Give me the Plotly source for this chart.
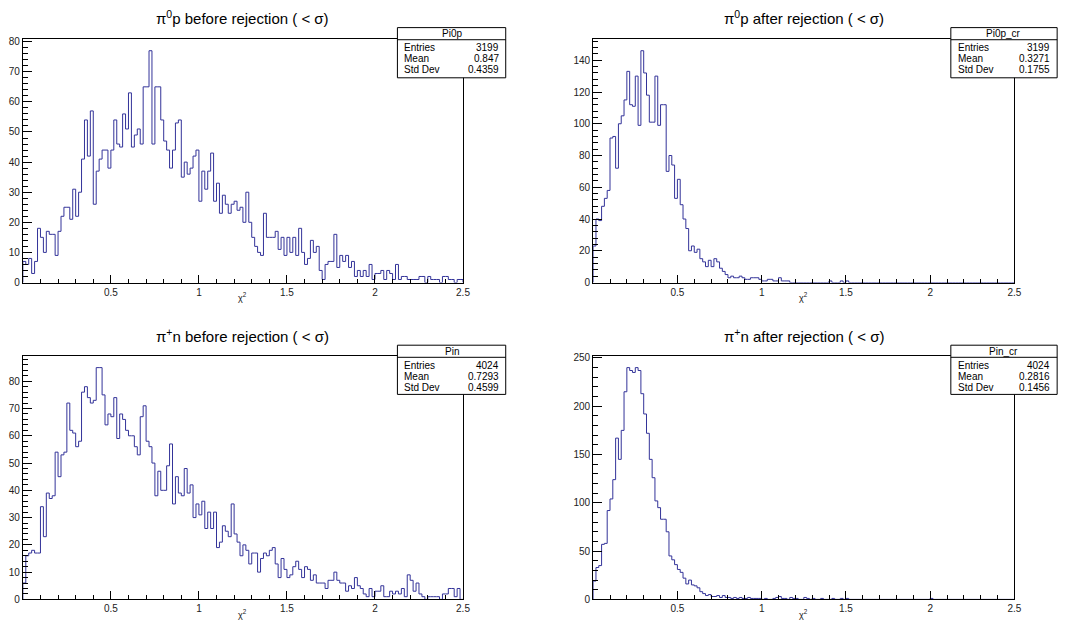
import numpy as np
import plotly.graph_objects as go

# ---------------- data ----------------
BIN_LO, BIN_HI, N_BINS = 0.0, 2.5, 150

PI0P_BEFORE = [
    7, 6, 8, 3, 7, 18, 15, 10, 17, 16,
    16, 9, 17, 22, 25, 25, 21, 31, 22, 30,
    41, 54, 42, 57, 26, 37, 41, 44, 44, 38,
    44, 54, 46, 45, 56, 51, 63, 45, 49, 51,
    46, 65, 65, 77, 46, 65, 65, 54, 47, 44,
    38, 44, 53, 54, 35, 40, 36, 38, 42, 44,
    27, 37, 31, 37, 43, 27, 33, 23, 29, 26,
    23, 26, 27, 24, 25, 20, 30, 20, 15, 12,
    10, 9, 23, 15, 15, 15, 17, 11, 15, 9,
    15, 10, 15, 9, 18, 10, 6, 8, 14, 10,
    12, 4, 1, 6, 7, 7, 16, 5, 9, 7,
    9, 5, 7, 2, 4, 2, 4, 2, 6, 1,
    3, 3, 4, 1, 4, 3, 1, 6, 1, 2,
    2, 1, 1, 1, 1, 2, 2, 0, 2, 1,
    1, 1, 0, 2, 2, 1, 1, 0, 1, 1,
]

PI0P_AFTER = [
    23, 40, 39, 48, 53, 58, 91, 92, 72, 100,
    105, 115, 133, 112, 111, 130, 99, 146, 132, 118,
    101, 101, 130, 99, 112, 112, 70, 80, 74, 53,
    65, 49, 40, 34, 20, 23, 19, 21, 15, 13,
    10, 14, 10, 15, 13, 9, 7, 5, 3, 4,
    3, 3, 4, 3, 2, 2, 3, 3, 3, 2,
    1, 1, 2, 2, 1, 1, 3, 1, 1, 1,
    0, 0, 0, 0, 0, 0, 0, 0, 0, 0,
    0, 0, 0, 0, 1, 0, 0, 0, 1, 0,
    1, 0, 0, 0, 0, 0, 0, 0, 0, 0,
    0, 0, 0, 0, 0, 0, 0, 0, 0, 0,
    0, 0, 0, 0, 0, 0, 0, 0, 0, 0,
    0, 0, 0, 0, 0, 0, 0, 0, 0, 0,
    0, 0, 0, 0, 0, 0, 0, 0, 0, 0,
    0, 0, 0, 0, 0, 0, 0, 0, 0, 0,
]

PIN_BEFORE = [
    6, 16, 17, 18, 17, 17, 34, 23, 39, 37,
    38, 54, 45, 53, 54, 72, 62, 61, 56, 58,
    76, 78, 74, 72, 73, 85, 85, 75, 64, 68,
    67, 74, 59, 68, 66, 62, 60, 60, 56, 53,
    67, 71, 58, 56, 50, 38, 47, 40, 40, 49,
    57, 35, 45, 39, 38, 48, 39, 42, 30, 35,
    31, 36, 26, 32, 26, 32, 19, 21, 27, 25,
    23, 35, 24, 21, 16, 20, 18, 13, 17, 17,
    10, 15, 17, 16, 18, 19, 13, 8, 15, 11,
    8, 9, 12, 14, 11, 8, 12, 11, 7, 9,
    6, 6, 6, 4, 7, 7, 10, 7, 6, 6,
    3, 5, 4, 8, 5, 4, 2, 1, 4, 1,
    3, 3, 5, 1, 1, 3, 2, 3, 2, 4,
    1, 9, 7, 3, 6, 2, 1, 0, 1, 1,
    1, 1, 0, 2, 2, 4, 4, 1, 4, 0,
]

PIN_AFTER = [
    19, 33, 35, 57, 58, 92, 104, 124, 167, 145,
    175, 215, 240, 237, 235, 240, 237, 213, 192, 172,
    145, 126, 102, 95, 83, 83, 70, 45, 41, 36,
    31, 28, 22, 16, 20, 15, 14, 12, 8, 6,
    4, 5, 3, 3, 4, 2, 4, 2, 2, 1,
    2, 1, 2, 1, 1, 2, 1, 1, 1, 1,
    0, 1, 0, 0, 1, 2, 3, 1, 1, 0,
    2, 1, 1, 0, 0, 2, 1, 0, 1, 0,
    0, 1, 0, 0, 0, 1, 0, 0, 1, 0,
    1, 0, 0, 0, 0, 0, 0, 0, 0, 0,
    0, 0, 0, 0, 0, 0, 0, 0, 0, 0,
    0, 0, 0, 0, 0, 0, 0, 0, 0, 0,
    1, 0, 0, 0, 0, 0, 0, 0, 0, 0,
    0, 0, 0, 0, 0, 0, 0, 0, 0, 0,
    0, 0, 0, 0, 0, 0, 0, 0, 0, 0,
]

TITLES = [
    "π<sup>0</sup>p before rejection ( &lt; σ)",
    "π<sup>0</sup>p after rejection ( &lt; σ)",
    "π<sup>+</sup>n before rejection ( &lt; σ)",
    "π<sup>+</sup>n after rejection ( &lt; σ)",
]
STAT_NAMES = ["Pi0p", "Pi0p_cr", "Pin", "Pin_cr"]
STAT_ENTRIES = ["3199", "3199", "4024", "4024"]
STAT_MEANS = ["0.847", "0.3271", "0.7293", "0.2816"]
STAT_STDS = ["0.4359", "0.1755", "0.4599", "0.1456"]
SERIES = [PI0P_BEFORE, PI0P_AFTER, PIN_BEFORE, PIN_AFTER]
Y_MAX = [80.85, 153.3, 89.25, 252.0]
Y_DTICK = [10, 20, 10, 50]
Y_MINOR = [2, 4, 2, 10]
X_TICKS = [0.5, 1, 1.5, 2, 2.5]
X_TICK_TEXT = ["0.5", "1", "1.5", "2", "2.5"]
X_TITLE = "χ<sup>2</sup>"

# ---------------- layout geometry (pixels) ----------------
W, H = 1086, 630
FRAMES = [  # x0, x1, ytop, ybottom
    (23, 466, 35.7, 283),
    (597, 1021, 35.7, 283),
    (23, 466, 357.7, 605),
    (597, 1021, 357.7, 605),
]
BOXES = [  # x0, x1, ytop, ybottom
    (400, 509, 24, 75),
    (957, 1064, 24, 75),
    (400, 509, 346.7, 396.7),
    (957, 1064, 346.7, 396.7),
]
TITLE_Y = [14, 14, 336.7, 336.7]

FONT = "Liberation Sans, Arial, Helvetica, sans-serif"
HIST_COLOR = "#333399"


def px(x):
    return x / W


def py(y):
    return 1 - y / H


edges = np.linspace(BIN_LO, BIN_HI, N_BINS + 1)

fig = go.Figure()
annotations = []
shapes = []

for k in range(4):
    vals = np.asarray(SERIES[k], dtype=float)
    xs = np.concatenate([[edges[0]], edges[:-1], [edges[-1], edges[-1]]])
    ys = np.concatenate([[0], vals, [vals[-1], 0]])
    sfx = "" if k == 0 else str(k + 1)
    fig.add_trace(go.Scatter(
        x=xs, y=ys, mode="lines", line=dict(color=HIST_COLOR, width=1, shape="hv"),
        xaxis="x" + sfx, yaxis="y" + sfx, showlegend=False, hoverinfo="skip",
    ))
    x0, x1, yt, yb = FRAMES[k]
    fig.update_layout(**{
        "xaxis" + sfx: dict(
            domain=[px(x0), px(x1)], anchor="y" + sfx, range=[BIN_LO, BIN_HI],
            showline=True, mirror=True, linecolor="black", linewidth=1,
            showgrid=False, zeroline=False,
            ticks="inside", ticklen=8, tickwidth=1, tickcolor="black",
            tickmode="array", tickvals=X_TICKS, ticktext=X_TICK_TEXT,
            tickfont=dict(family=FONT, size=10, color="#222"),
            minor=dict(ticks="inside", ticklen=4, tickcolor="black",
                       tickmode="linear", tick0=0, dtick=0.1, showgrid=False),
        ),
        "yaxis" + sfx: dict(
            domain=[py(yb), py(yt)], anchor="x" + sfx, range=[0, Y_MAX[k]],
            showline=True, mirror=True, linecolor="black", linewidth=1,
            showgrid=False, zeroline=False,
            ticks="inside", ticklen=9, tickwidth=1, tickcolor="black",
            tickmode="linear", tick0=0, dtick=Y_DTICK[k],
            tickfont=dict(family=FONT, size=10, color="#222"),
            minor=dict(ticks="inside", ticklen=5, tickcolor="black",
                       tickmode="linear", tick0=0, dtick=Y_MINOR[k], showgrid=False),
        ),
    })
    # title
    annotations.append(dict(
        text=TITLES[k], x=px((x0 + x1) / 2), y=py(TITLE_Y[k]), xref="paper", yref="paper",
        xanchor="center", yanchor="middle", showarrow=False,
        font=dict(family=FONT, size=15, color="black"),
    ))
    # x axis title
    annotations.append(dict(
        text=X_TITLE, x=px((x0 + x1) / 2), y=py(yb + 15), xref="paper", yref="paper",
        xanchor="center", yanchor="middle", showarrow=False,
        font=dict(family=FONT, size=9, color="#222"),
    ))
    # stats box
    bx0, bx1, byt, byb = BOXES[k]
    shapes.append(dict(type="rect", xref="paper", yref="paper", layer="above",
                       x0=px(bx0), x1=px(bx1), y0=py(byb), y1=py(byt),
                       fillcolor="white", line=dict(color="black", width=1)))
    sep = byt + 12.3
    shapes.append(dict(type="line", xref="paper", yref="paper", layer="above",
                       x0=px(bx0), x1=px(bx1), y0=py(sep), y1=py(sep),
                       line=dict(color="black", width=1)))
    annotations.append(dict(
        text=STAT_NAMES[k], x=px((bx0 + bx1) / 2), y=py(byt + 6.2), xref="paper", yref="paper",
        xanchor="center", yanchor="middle", showarrow=False,
        font=dict(family=FONT, size=10, color="black"),
    ))
    labels = ["Entries", "Mean", "Std Dev"]
    values = [STAT_ENTRIES[k], STAT_MEANS[k], STAT_STDS[k]]
    for r in range(3):
        yy = byt + 20.3 + r * 11.3
        annotations.append(dict(
            text=labels[r], x=px(bx0 + 5), y=py(yy), xref="paper", yref="paper",
            xanchor="left", yanchor="middle", showarrow=False,
            font=dict(family=FONT, size=10, color="black"),
        ))
        annotations.append(dict(
            text=values[r], x=px(bx1 - 5), y=py(yy), xref="paper", yref="paper",
            xanchor="right", yanchor="middle", showarrow=False,
            font=dict(family=FONT, size=10, color="black"),
        ))

fig.update_layout(
    width=W, height=H, margin=dict(l=0, r=0, t=0, b=0),
    paper_bgcolor="white", plot_bgcolor="white",
    annotations=annotations, shapes=shapes, showlegend=False,
)

fig.write_html(
    "out.html",
    config={"displayModeBar": False},
    post_script="document.body.style.margin='0px';document.body.style.overflow='hidden';",
)
